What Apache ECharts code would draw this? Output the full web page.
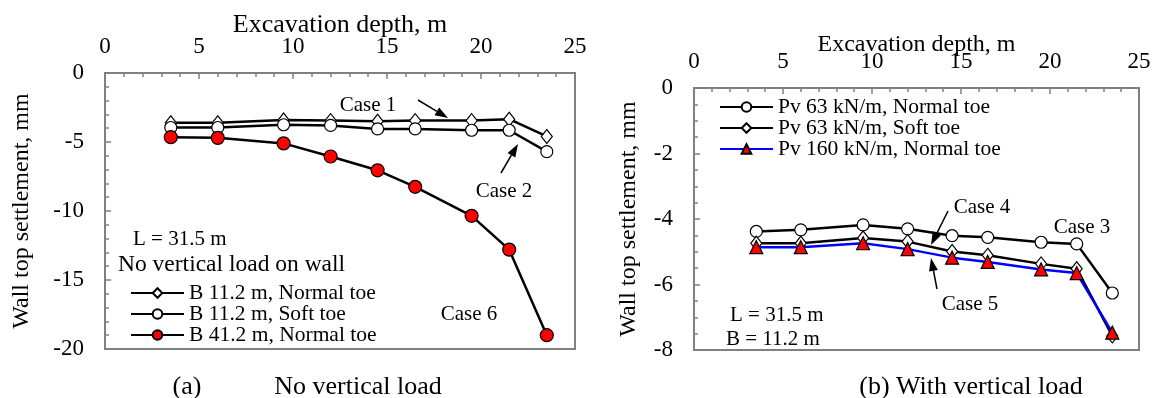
<!DOCTYPE html>
<html>
<head>
<meta charset="utf-8">
<script src="https://cdn.jsdelivr.net/npm/echarts@6/dist/echarts.min.js"></script>
<style>
  html, body { margin: 0; padding: 0; background: #fff; }
  #chart { width: 1157px; height: 398px; }
</style>
</head>
<body>
<div id="chart"></div>
<script>
// excavation stages (m)
const depth = [3.5, 6, 9.5, 12, 14.5, 16.5, 19.5, 21.5, 23.5];

// (a) no vertical load
const case1 = [-3.6, -3.6, -3.4, -3.45, -3.5, -3.45, -3.45, -3.35, -4.6];
const case2 = [-3.95, -3.95, -3.75, -3.8, -4.05, -4.05, -4.15, -4.15, -5.7];
const case6 = [-4.65, -4.7, -5.1, -6.05, -7.05, -8.25, -10.35, -12.8, -19.0];
const namesA = ["B 11.2 m, Normal toe", "B 11.2 m, Soft toe", "B 41.2 m, Normal toe"];

// (b) with vertical load
const case3 = [-4.38, -4.33, -4.18, -4.3, -4.51, -4.56, -4.71, -4.76, -6.26];
const case4 = [-4.74, -4.74, -4.58, -4.69, -4.99, -5.11, -5.37, -5.52, -7.57];
const case5 = [-4.86, -4.86, -4.74, -4.92, -5.18, -5.31, -5.54, -5.65, -7.47];
const namesB = ["Pv 63 kN/m, Normal toe", "Pv 63 kN/m, Soft toe", "Pv 160 kN/m, Normal toe"];

const FONT = "'Liberation Serif', 'Times New Roman', serif";
const FRAME = "#808080";

const pairs = (ys) => depth.map((x, i) => [x, ys[i]]);

function xAxis(gridIndex, nameGap, nameSize) {
  return {
    gridIndex,
    type: "value",
    position: "top",
    min: 0,
    max: 25,
    interval: 5,
    name: "Excavation depth, m",
    nameLocation: "middle",
    nameGap,
    nameMoveOverlap: false,
    nameTextStyle: { fontFamily: FONT, fontSize: nameSize, color: "#000" },
    axisLine: { show: false },
    axisTick: { show: true, inside: true, length: 6, lineStyle: { color: FRAME, width: 1.5 } },
    minorTick: { show: true, splitNumber: 5, length: 4, lineStyle: { color: FRAME, width: 1.5 } },
    axisLabel: { fontFamily: FONT, fontSize: 23, color: "#000", margin: 15 },
    splitLine: { show: false },
  };
}

function yAxis(gridIndex, min, interval, minorSplit, nameGap) {
  return {
    gridIndex,
    type: "value",
    min,
    max: 0,
    interval,
    name: "Wall top settlement, mm",
    nameLocation: "middle",
    nameGap,
    nameRotate: 90,
    nameMoveOverlap: false,
    nameTextStyle: { fontFamily: FONT, fontSize: 24, color: "#000" },
    axisLine: { show: false },
    axisTick: { show: true, inside: true, length: 6, lineStyle: { color: FRAME, width: 1.5 } },
    minorTick: { show: true, splitNumber: minorSplit, length: 4, lineStyle: { color: FRAME, width: 1.5 } },
    axisLabel: { fontFamily: FONT, fontSize: 23, color: "#000", margin: 21 },
    splitLine: { show: false },
  };
}

function line(name, idx, data, symbol, size, fill, color) {
  return {
    name,
    type: "line",
    xAxisIndex: idx,
    yAxisIndex: idx,
    data,
    symbol,
    symbolSize: size,
    showAllSymbol: true,
    lineStyle: { color: color || "#000", width: 2.5 },
    itemStyle: { color: fill, borderColor: "#000", borderWidth: 1.2 },
    emphasis: { disabled: true },
    animation: false,
  };
}

function text(str, x, y, size, align) {
  return {
    type: "text",
    style: {
      text: str, x, y,
      font: `${size}px ${FONT}`,
      fill: "#000",
      align: align || "center",
      verticalAlign: "middle",
    },
  };
}

function arrow(x1, y1, x2, y2) {
  const a = Math.atan2(y2 - y1, x2 - x1);
  const L = 13, W = 4.5;
  const bx = x2 - L * Math.cos(a), by = y2 - L * Math.sin(a);
  const s = Math.sin(a), c = Math.cos(a);
  return [
    { type: "line", shape: { x1, y1, x2: bx, y2: by }, style: { stroke: "#000", lineWidth: 1.5 } },
    {
      type: "polygon",
      shape: { points: [[x2, y2], [bx + W * s, by - W * c], [bx - W * s, by + W * c]] },
      style: { fill: "#000" },
    },
  ];
}

const legendBase = {
  orient: "vertical",
  itemWidth: 53,
  itemHeight: 12,
  itemGap: -1,
  selectedMode: false,
};

const chart = echarts.init(document.getElementById("chart"), null, { renderer: "canvas" });

chart.setOption({
  backgroundColor: "#fff",
  animation: false,
  grid: [
    { left: 105, top: 73, width: 470, height: 276, show: true, borderColor: FRAME, borderWidth: 2, backgroundColor: "transparent" },
    { left: 694, top: 88, width: 445, height: 262, show: true, borderColor: FRAME, borderWidth: 2, backgroundColor: "transparent" },
  ],
  xAxis: [xAxis(0, 35, 26), xAxis(1, 31, 24)],
  yAxis: [yAxis(0, -20, 5, 5, 71), yAxis(1, -8, 2, 4, 53)],
  legend: [
    {
      ...legendBase, left: 125, top: 277, data: namesA,
      textStyle: { fontFamily: FONT, fontSize: 21.5, color: "#000", lineHeight: 20 },
    },
    {
      ...legendBase, left: 714, top: 91, data: namesB,
      textStyle: { fontFamily: FONT, fontSize: 21.5, color: "#000", lineHeight: 20 },
    },
  ],
  series: [
    line(namesA[0], 0, pairs(case1), "diamond", [11, 14], "#fff"),
    line(namesA[1], 0, pairs(case2), "circle", 12, "#fff"),
    line(namesA[2], 0, pairs(case6), "circle", 13, "#ff0000"),
    line(namesB[0], 1, pairs(case3), "circle", 12, "#fff"),
    line(namesB[1], 1, pairs(case4), "diamond", [11, 14], "#fff"),
    line(namesB[2], 1, pairs(case5), "triangle", 13, "#ff0000", "#0000ff"),
  ],
  graphic: [
    text("Case 1", 368, 105, 21),
    ...arrow(418, 100, 448, 118),
    text("Case 2", 504, 191, 21),
    ...arrow(501, 173, 518, 144),
    text("L = 31.5 m", 133, 239, 21, "left"),
    text("No vertical load on wall", 118, 265, 23.5, "left"),
    text("Case 6", 469, 314, 21),
    text("(a)", 187, 387, 26),
    text("No vertical load", 358, 387, 26),
    text("Case 4", 982, 207, 21),
    ...arrow(948, 211, 931, 245),
    text("Case 3", 1082, 227, 21),
    text("Case 5", 970, 304, 21),
    ...arrow(937, 289, 931, 258),
    text("L = 31.5 m", 730, 315, 21, "left"),
    text("B = 11.2 m", 726, 339, 21, "left"),
    text("(b) With vertical load", 971, 387, 26),
  ],
});
</script>
</body>
</html>
